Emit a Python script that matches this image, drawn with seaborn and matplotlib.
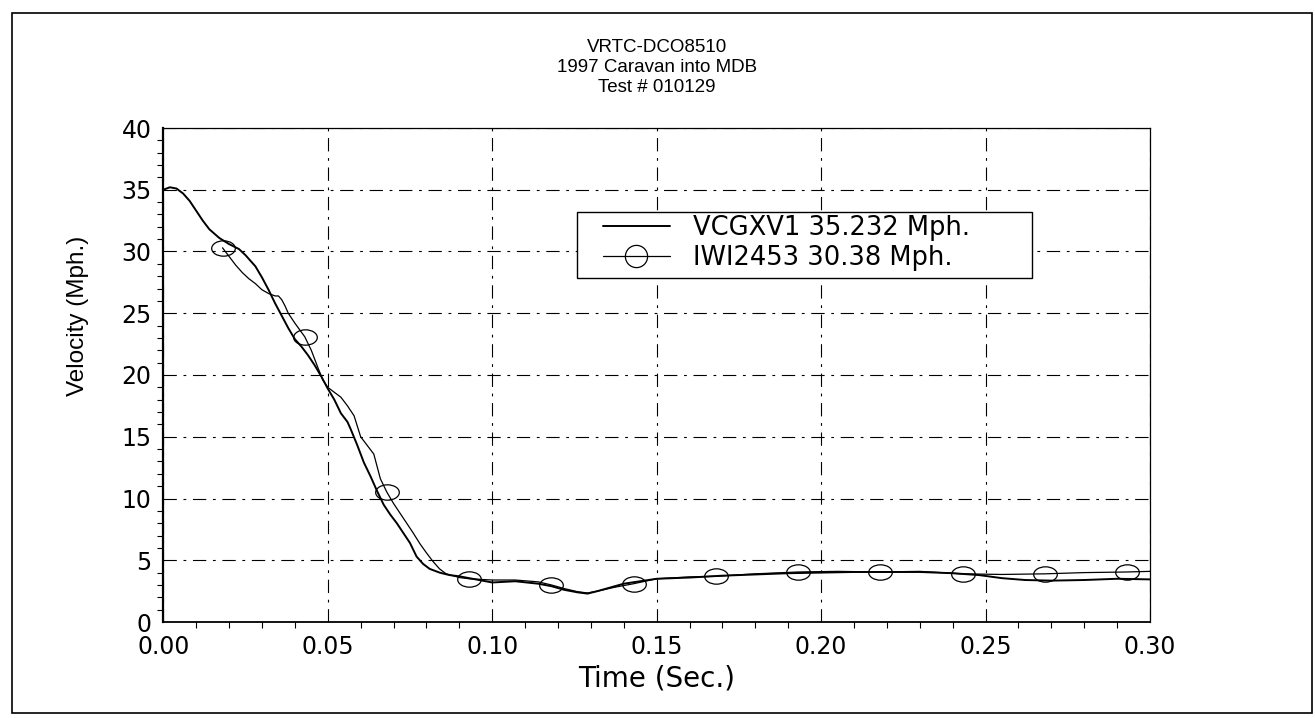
import numpy as np
import pandas as pd
import seaborn as sns
import matplotlib
matplotlib.use("Agg")
import matplotlib.pyplot as plt
from matplotlib.path import Path
from matplotlib.lines import Line2D
from matplotlib.patches import Rectangle
from matplotlib.ticker import MultipleLocator

# ---------------- data ----------------
title_lines = ["VRTC-DCO8510", "1997 Caravan into MDB", "Test # 010129"]
x_label = "Time (Sec.)"
y_label = "Velocity (Mph.)"
x_ticks = [0.00, 0.05, 0.10, 0.15, 0.20, 0.25, 0.30]
y_ticks = [0, 5, 10, 15, 20, 25, 30, 35, 40]

s1_name = "VCGXV1 35.232 Mph."
s1_t = [0.000, 0.002, 0.004, 0.006, 0.008, 0.010, 0.012, 0.014, 0.017, 0.020,
        0.023, 0.025, 0.028, 0.030, 0.032, 0.034, 0.036, 0.038, 0.040, 0.042,
        0.044, 0.046, 0.048, 0.050, 0.052, 0.054, 0.056, 0.057, 0.059, 0.061,
        0.063, 0.065, 0.067, 0.069, 0.071, 0.073, 0.075, 0.077, 0.079, 0.081,
        0.084, 0.087, 0.090, 0.094, 0.100, 0.107, 0.114, 0.118, 0.122, 0.126,
        0.129, 0.132, 0.136, 0.140, 0.145, 0.150, 0.160, 0.170, 0.180, 0.190,
        0.200, 0.210, 0.220, 0.230, 0.240, 0.248, 0.255, 0.262, 0.270, 0.280,
        0.290, 0.300]
s1_v = [35.0, 35.2, 35.1, 34.7, 34.1, 33.3, 32.5, 31.8, 31.1, 30.6,
        30.2, 29.7, 28.8, 27.9, 26.9, 25.8, 24.8, 23.8, 22.9, 22.3,
        21.6, 20.8, 19.9, 18.9, 18.0, 16.9, 16.2, 15.6, 14.3, 12.9,
        11.8, 10.6, 9.5, 8.7, 8.0, 7.2, 6.4, 5.3, 4.7, 4.3,
        4.0, 3.8, 3.7, 3.5, 3.2, 3.3, 3.1, 2.9, 2.6, 2.4,
        2.3, 2.5, 2.8, 3.1, 3.3, 3.5, 3.6, 3.75, 3.85, 3.95,
        4.0, 4.05, 4.05, 4.05, 3.95, 3.8, 3.55, 3.4, 3.35, 3.4,
        3.5, 3.45]

s2_name = "IWI2453 30.38 Mph."
s2_t = [0.018, 0.020, 0.022, 0.024, 0.026, 0.028, 0.030, 0.032, 0.034, 0.035,
        0.036, 0.037, 0.038, 0.040, 0.043, 0.045, 0.047, 0.0485, 0.050, 0.052,
        0.054, 0.056, 0.058, 0.060, 0.062, 0.064, 0.066, 0.068, 0.070, 0.072,
        0.074, 0.076, 0.078, 0.080, 0.082, 0.084, 0.086, 0.090, 0.093, 0.100,
        0.107, 0.114, 0.118, 0.122, 0.126, 0.129, 0.132, 0.137, 0.143, 0.150,
        0.160, 0.168, 0.180, 0.193, 0.205, 0.218, 0.230, 0.243, 0.255, 0.268,
        0.280, 0.293, 0.300]
s2_v = [30.3, 29.6, 28.9, 28.3, 27.8, 27.4, 26.9, 26.6, 26.4, 26.4,
        26.1, 25.6, 25.0, 24.2, 23.1, 22.0, 20.6, 19.6, 19.0, 18.6,
        18.2, 17.5, 16.7, 15.0, 14.3, 13.6, 11.6, 10.5, 9.6, 8.8,
        8.0, 7.2, 6.35, 5.6, 4.9, 4.3, 3.9, 3.6, 3.5, 3.4,
        3.4, 3.25, 3.0, 2.7, 2.45, 2.35, 2.5, 2.8, 3.1, 3.5,
        3.65, 3.7, 3.9, 4.05, 4.1, 4.05, 4.1, 3.9, 3.85, 3.9,
        4.0, 4.05, 4.1]

marker_t = [0.018, 0.043, 0.068, 0.093, 0.118, 0.143, 0.168, 0.193, 0.218, 0.243, 0.268, 0.293]
marker_v = [30.3, 23.1, 10.5, 3.5, 3.0, 3.1, 3.7, 4.05, 4.05, 3.9, 3.9, 4.05]

# ---------------- styling ----------------
sns.set_theme(style="white")
plt.rcParams["font.family"] = ["DejaVu Sans"]

W, H = 1315, 718
fig = plt.figure(figsize=(W / 100, H / 100), dpi=100)
fig.patch.set_facecolor("white")

ax_l, ax_r, ax_t, ax_b = 163.3, 1150.0, 128.0, 622.0
ax = fig.add_axes([ax_l / W, 1 - ax_b / H, (ax_r - ax_l) / W, (ax_b - ax_t) / H])
ax.set_facecolor("white")

df1 = pd.DataFrame({"t": s1_t, "v": s1_v})
df2 = pd.DataFrame({"t": s2_t, "v": s2_v})
dfm = pd.DataFrame({"t": marker_t, "v": marker_v})

verts = Path.unit_circle().vertices * np.array([1.0, 0.65])
ellipse = Path(verts, Path.unit_circle().codes)

sns.lineplot(data=df1, x="t", y="v", ax=ax, color="black", linewidth=1.4,
             estimator=None, sort=False, zorder=3)
sns.lineplot(data=df2, x="t", y="v", ax=ax, color="black", linewidth=0.9,
             estimator=None, sort=False, zorder=3)
sns.lineplot(data=dfm, x="t", y="v", ax=ax, color="black", linestyle="none",
             marker=ellipse, markersize=17, markerfacecolor="none",
             markeredgecolor="black", markeredgewidth=0.9,
             estimator=None, sort=False, zorder=4)

ax.set_xlim(0, 0.30)
ax.set_ylim(0, 40)
ax.set_xticks(x_ticks)
ax.set_xticklabels([f"{v:.2f}" for v in x_ticks])
ax.set_yticks(y_ticks)
ax.set_yticklabels([str(v) for v in y_ticks])
ax.xaxis.set_minor_locator(MultipleLocator(0.01))
ax.yaxis.set_minor_locator(MultipleLocator(1))

ax.tick_params(axis="both", which="major", direction="inout", length=9, width=0.9,
               color="black", labelsize=17, labelcolor="black")
ax.tick_params(axis="x", which="major", pad=5, top=False)
ax.tick_params(axis="y", which="major", pad=4, right=False)
ax.tick_params(axis="x", which="minor", direction="out", length=4, width=0.8,
               color="black", bottom=True, top=False)
ax.tick_params(axis="y", which="minor", direction="out", length=4, width=0.8,
               color="black", left=True, right=False)

ax.grid(True, which="major", color="black", linewidth=0.8,
        linestyle=(0, (12, 6, 2.5, 6)))
ax.set_axisbelow(True)

for side, lw in (("left", 1.6), ("bottom", 1.3), ("top", 0.9), ("right", 0.9)):
    ax.spines[side].set_visible(True)
    ax.spines[side].set_color("black")
    ax.spines[side].set_linewidth(lw)

ax.set_xlabel(x_label, fontsize=20, color="black", labelpad=4)
ax.set_ylabel(y_label, fontsize=17.5, color="black",
              fontfamily=["Liberation Sans", "DejaVu Sans"])
ax.yaxis.set_label_coords((89 - ax_l) / (ax_r - ax_l), (ax_b - 316) / (ax_b - ax_t))

# Legend box and entries
def ax_fx(px):
    return (px - ax_l) / (ax_r - ax_l)

def ax_fy(py):
    return (ax_b - py) / (ax_b - ax_t)

box = Rectangle((ax_fx(577), ax_fy(278)), ax_fx(1032) - ax_fx(577), ax_fy(212) - ax_fy(278),
                transform=ax.transAxes, facecolor="white", edgecolor="black",
                linewidth=1.0, zorder=5)
ax.add_patch(box)

handles = [
    Line2D([], [], color="black", linewidth=1.4),
    Line2D([], [], color="black", linewidth=0.9, marker="o", markersize=16,
           markerfacecolor="none", markeredgecolor="black", markeredgewidth=0.9),
]
leg = ax.legend(handles, [s1_name, s2_name], loc="upper left",
                bbox_to_anchor=(ax_fx(603), ax_fy(215)), frameon=False,
                fontsize=18.5, handlelength=2.6, handletextpad=0.9,
                borderpad=0, borderaxespad=0, labelspacing=0.15)
leg.set_zorder(6)
for txt in leg.get_texts():
    txt.set_color("black")

# Title lines
cx = (ax_l + ax_r) / 2 / W
for line, py in zip(title_lines, (48, 68, 88)):
    fig.text(cx, 1 - py / H, line, ha="center", va="center", fontsize=13.5,
             color="black", fontfamily=["Liberation Sans", "DejaVu Sans"])

# Outer page frame
fig.patches.append(Rectangle((12 / W, 1 - 713 / H), 1300 / W, 700 / H,
                             transform=fig.transFigure, fill=False,
                             edgecolor="black", linewidth=1.2))

fig.savefig("out.png", dpi=100, facecolor="white")
